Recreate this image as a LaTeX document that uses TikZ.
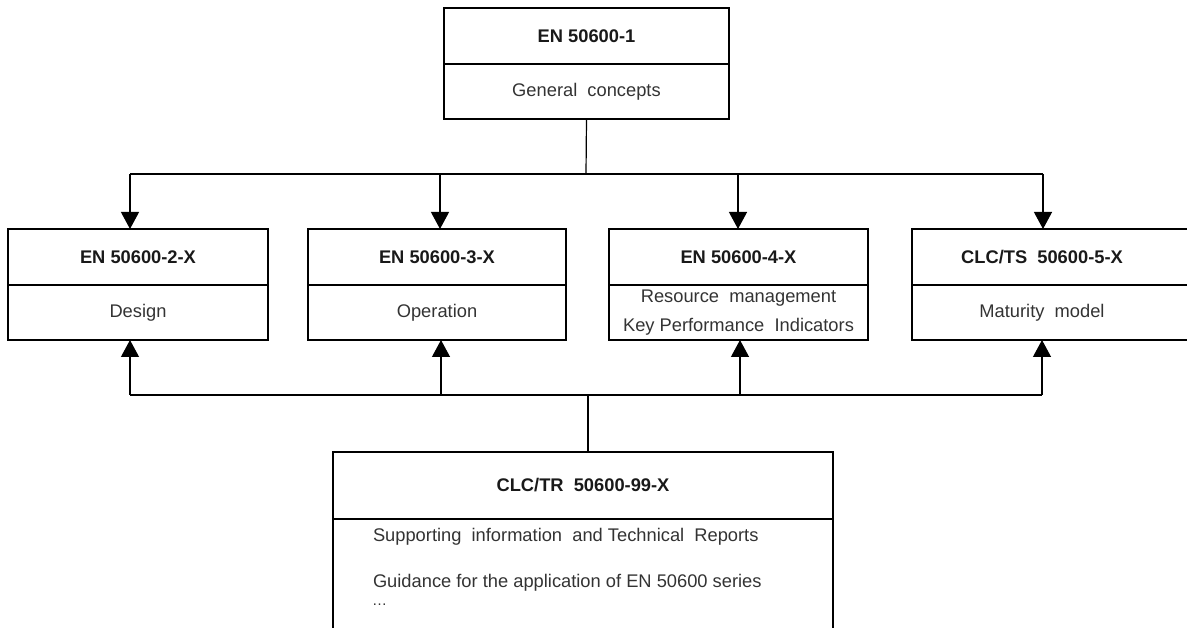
\documentclass[tikz,border=0pt]{standalone}
\usepackage{fontspec}
\setmainfont{Liberation Sans}
\usetikzlibrary{arrows.meta,calc}
\begin{document}
\begin{tikzpicture}[x=1pt,y=-1pt,
  every node/.style={inner sep=0pt,outer sep=0pt},
  titlebox/.style={draw=black,line width=1.3pt,minimum height=56pt,font=\fontsize{18.3}{22}\selectfont\bfseries,text=black!90},
  bodybox/.style={draw=black,line width=1.3pt,minimum height=55pt,font=\fontsize{18.3}{22}\selectfont,text=black!80,align=center},
  plaintext/.style={font=\fontsize{18.3}{22}\selectfont,text=black!80,anchor=west},
  conn/.style={draw=black,line width=1.2pt},
  arr/.style={conn,-{Triangle[width=18pt,length=17pt]}}
]
\useasboundingbox (0,0) rectangle (1187,628);
% top box
\node[titlebox,minimum width=285pt] (t1) at (586.5,36) {EN 50600-1};
\node[bodybox,minimum width=285pt,minimum height=55pt] (b1) at (586.5,91.5) {General\ \ concepts};
% row boxes
\node[titlebox,minimum width=260pt] (t2) at (138,257) {EN 50600-2-X};
\node[bodybox,minimum width=260pt] (b2) at (138,312.5) {Design};
\node[titlebox,minimum width=258pt] (t3) at (437,257) {EN 50600-3-X};
\node[bodybox,minimum width=258pt] (b3) at (437,312.5) {Operation};
\node[titlebox,minimum width=259pt] (t4) at (738.5,257) {EN 50600-4-X};
\node[bodybox,minimum width=259pt,font=\fontsize{18.3}{29}\selectfont] (b4) at (738.5,312.5) {Resource\ \ management\\Key\ Performance\ \ Indicators};
\draw[line width=2.6pt] (b4.north west) -- (b4.north east);
\node[titlebox,minimum width=280pt] (t5) at (1052,257) {\hspace*{-20pt}CLC/TS\ \ 50600-5-X};
\node[bodybox,minimum width=280pt] (b5) at (1052,312.5) {\hspace*{-20pt}Maturity\ \ model};
% bottom box
\node[titlebox,minimum width=500pt,minimum height=67pt] (t99) at (583,485.5) {CLC/TR\ \ 50600-99-X};
\node[bodybox,minimum width=500pt,minimum height=130pt] (b99) at (583,584) {};
\node[plaintext] (s1) at (373,537) {Supporting\ \ information\ \ and Technical\ \ Reports};
\node[plaintext] (s2) at (373,583) {Guidance for the application of EN 50600 series};
\node[plaintext,font=\fontsize{15}{17}\selectfont] (s3) at (372,605) {\dots};
% top distribution
\coordinate (j1) at (586,174);
\coordinate (a2) at (130,174);
\coordinate (a3) at (440,174);
\coordinate (a4) at (738,174);
\coordinate (a5) at (1043,174);
\draw[conn] (b1.south) -- (j1);
\draw[conn] (a2) -- (a5);
\draw[arr] (a2) -- (a2 |- t2.north);
\draw[arr] (a3) -- (a3 |- t3.north);
\draw[arr] (a4) -- (a4 |- t4.north);
\draw[arr] (a5) -- (a5 |- t5.north);
% bottom distribution
\coordinate (j2) at (588,395);
\coordinate (c2) at (130,395);
\coordinate (c3) at (441,395);
\coordinate (c4) at (740,395);
\coordinate (c5) at (1042,395);
\draw[conn] (j2) -- (j2 |- t99.north);
\draw[conn] (c2) -- (c5);
\draw[arr] (c2) -- (c2 |- b2.south);
\draw[arr] (c3) -- (c3 |- b3.south);
\draw[arr] (c4) -- (c4 |- b4.south);
\draw[arr] (c5) -- (c5 |- b5.south);
\end{tikzpicture}
\end{document}
